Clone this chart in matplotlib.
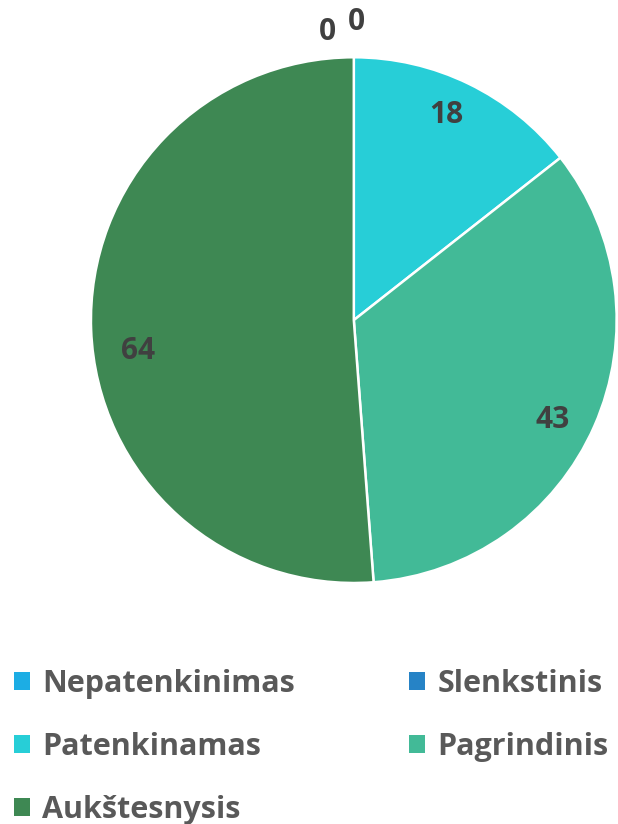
import numpy as np
import matplotlib
matplotlib.use('Agg')
import matplotlib.pyplot as plt
from matplotlib.patches import Patch

# data
categories = ['Nepatenkinimas', 'Slenkstinis', 'Patenkinamas', 'Pagrindinis', 'Aukštesnysis']
values = [0, 0, 18, 43, 64]
colors = ['#1CADE4', '#2683C6', '#27CED7', '#42BA97', '#3E8853']

plt.rcParams['font.family'] = ['Open Sans', 'DejaVu Sans']

fig = plt.figure(figsize=(6.18, 8.24), dpi=100)
ax = fig.add_axes([0.147, 0.2925, 0.851, 0.638])

wedges, _ = ax.pie(values, colors=colors, startangle=90, counterclock=False,
                   wedgeprops=dict(edgecolor='white', linewidth=1.8))
ax.set_aspect('equal')
ax.set_xlim(-1, 1)
ax.set_ylim(-1, 1)

# value labels
label_r = [1.10, 1.135, 0.855, 0.848, 0.83]
label_shift = [5.2, -0.6, 1.5, -3, 6]   # degrees, nudged like the original
for w, v, r, sh in zip(wedges, values, label_r, label_shift):
    ang = np.deg2rad((w.theta1 + w.theta2) / 2 + sh)
    ax.text(r * np.cos(ang), r * np.sin(ang), str(v), ha='center', va='center',
            fontsize=21.5, fontweight='bold', color='#404040')

# legend in row order
handles = [Patch(facecolor=c, edgecolor='none') for c in colors]
order = [0, 2, 4, 1, 3]
leg = fig.legend([handles[i] for i in order], [categories[i] for i in order],
                 loc='upper left', bbox_to_anchor=(-0.022, 0.222), ncol=2,
                 frameon=False, handlelength=0.52, handleheight=0.52,
                 handletextpad=0.4, columnspacing=3.75, labelspacing=1.08,
                 prop=dict(weight='bold', size=22))
for t in leg.get_texts():
    t.set_color('#595959')

fig.savefig('out.png', dpi=100)
